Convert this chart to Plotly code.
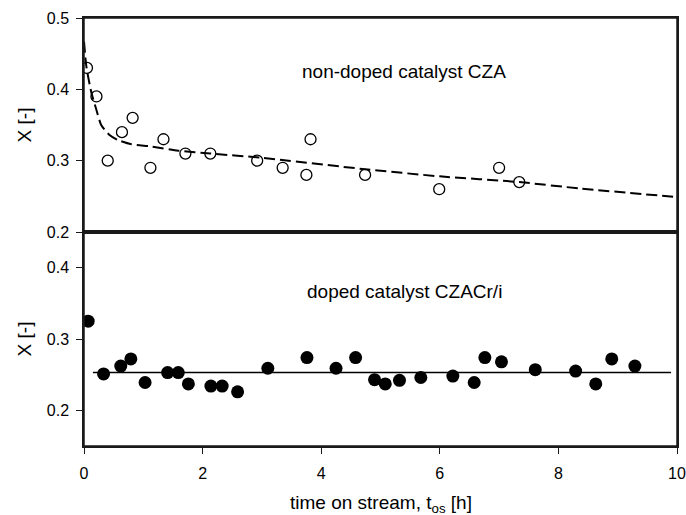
import plotly.graph_objects as go
from plotly.subplots import make_subplots

# Non-doped catalyst CZA: measured conversion
czA_t = [0.05, 0.21, 0.40, 0.64, 0.82, 1.12, 1.34, 1.71, 2.13, 2.92, 3.35, 3.75, 3.82, 4.74, 5.99, 7.00, 7.34]
czA_x = [0.43, 0.39, 0.30, 0.34, 0.36, 0.29, 0.33, 0.31, 0.31, 0.30, 0.29, 0.28, 0.33, 0.28, 0.26, 0.29, 0.27]

# Deactivation model curve for CZA
fit_t = [0.0, 0.04, 0.12, 0.21, 0.29, 0.43, 0.57, 0.80, 1.13, 1.59, 2.13, 3.0, 4.74, 6.0, 7.34, 8.36, 10.0]
fit_x = [0.467, 0.432, 0.397, 0.371, 0.350, 0.336, 0.329, 0.323, 0.320, 0.314, 0.310, 0.304, 0.288, 0.278, 0.270, 0.261, 0.249]

# Doped catalyst CZACr/i: measured conversion
czacr_t = [0.07, 0.33, 0.62, 0.79, 1.03, 1.41, 1.59, 1.76, 2.14, 2.33, 2.59, 3.10, 3.76, 4.25, 4.58, 4.90,
           5.08, 5.32, 5.68, 6.22, 6.58, 6.76, 7.04, 7.61, 8.29, 8.63, 8.90, 9.29]
czacr_x = [0.325, 0.251, 0.262, 0.272, 0.239, 0.253, 0.253, 0.237, 0.234, 0.234, 0.226, 0.259, 0.274, 0.259,
           0.274, 0.243, 0.237, 0.242, 0.246, 0.248, 0.239, 0.274, 0.268, 0.257, 0.255, 0.237, 0.272, 0.262]

# Constant (no deactivation) level for CZACr/i
flat_t = [0.15, 9.9]
flat_x = [0.253, 0.253]

x_ticks = [0, 2, 4, 6, 8, 10]
top_ticks = [0.2, 0.3, 0.4, 0.5]
bottom_ticks = [0.2, 0.3, 0.4]

FONT = "Arial, Liberation Sans, sans-serif"
AX = "#1a1a1a"

fig = make_subplots(rows=2, cols=1, shared_xaxes=True, vertical_spacing=0.0)

fig.add_trace(go.Scatter(x=fit_t, y=fit_x, mode="lines",
                         line=dict(color="black", width=2, dash="11px,5px", shape="spline", smoothing=0.6),
                         showlegend=False), row=1, col=1)
fig.add_trace(go.Scatter(x=czA_t, y=czA_x, mode="markers",
                         marker=dict(symbol="circle-open", size=11, color="black", line=dict(width=1.3)),
                         showlegend=False), row=1, col=1)

fig.add_trace(go.Scatter(x=flat_t, y=flat_x, mode="lines", line=dict(color="black", width=1.6),
                         showlegend=False), row=2, col=1)
fig.add_trace(go.Scatter(x=czacr_t, y=czacr_x, mode="markers",
                         marker=dict(symbol="circle", size=13, color="black", line=dict(width=0)),
                         showlegend=False), row=2, col=1)

common_y = dict(showline=True, mirror=True, linecolor=AX, linewidth=1.5, ticks="outside", ticklen=6,
                tickcolor=AX, tickwidth=1.2, showgrid=False, zeroline=False, automargin=False,
                tickfont=dict(family=FONT, size=16, color="black"), ticklabelstandoff=4,
                title=dict(text="X [-]", font=dict(family=FONT, size=19, color="black"), standoff=10))

fig.update_yaxes(range=[0.2, 0.5], tickvals=top_ticks, tickformat=".1f", row=1, col=1, **common_y)
fig.update_yaxes(range=[0.15, 0.45], tickvals=bottom_ticks, tickformat=".1f", row=2, col=1, **common_y)

fig.update_xaxes(range=[0, 10], showline=True, mirror=True, linecolor=AX, linewidth=1.5,
                 showgrid=False, zeroline=False, automargin=False)
fig.update_xaxes(ticks="", showticklabels=False, row=1, col=1)
fig.update_xaxes(tickvals=x_ticks, ticks="outside", ticklen=6, tickcolor=AX, tickwidth=1.2,
                 tickfont=dict(family=FONT, size=16, color="black"), ticklabelstandoff=6,
                 row=2, col=1)

# panel frames
for xr, yr in (("x domain", "y domain"), ("x2 domain", "y2 domain")):
    fig.add_shape(type="rect", xref=xr, yref=yr, x0=0, x1=1, y0=0, y1=1,
                  line=dict(color=AX, width=1.5), fillcolor="rgba(0,0,0,0)", layer="above")

fig.add_annotation(text="non-doped catalyst CZA", xref="x", yref="y", x=5.4, y=0.425,
                   showarrow=False, font=dict(family=FONT, size=19, color="black"))
fig.add_annotation(text="doped catalyst CZACr/i", xref="x2", yref="y2", x=5.4, y=0.367,
                   showarrow=False, font=dict(family=FONT, size=19, color="black"))
fig.add_annotation(text="time on stream, t<sub>os</sub> [h]", xref="paper", yref="paper", x=0.5, y=-0.136,
                   yanchor="middle", showarrow=False, font=dict(family=FONT, size=19, color="black"))

fig.update_layout(width=686, height=515, margin=dict(l=84, r=9, t=18, b=69),
                  paper_bgcolor="white", plot_bgcolor="white")

fig.write_html("out.html")
